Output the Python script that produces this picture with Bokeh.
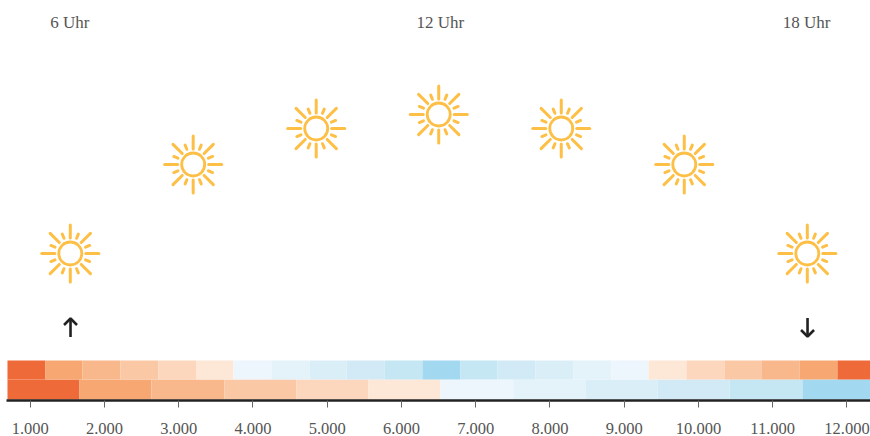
from math import cos, sin, pi
from bokeh.plotting import figure
from bokeh.models import Range1d, FixedTicker
from bokeh.core.properties import value
from bokeh.embed import file_html
from bokeh.resources import INLINE

FONT = "Liberation Serif"
TICKS = [1000, 2000, 3000, 4000, 5000, 6000, 7000, 8000, 9000, 10000, 11000, 12000]
TICK_LABELS = ["1.000", "2.000", "3.000", "4.000", "5.000", "6.000", "7.000", "8.000", "9.000", "10.000", "11.000", "12.000"]

PALETTE = ["#ef6a39", "#f7a872", "#f8b88c", "#fac8a5", "#fcd7bd", "#fde7d7",
           "#eef6fd", "#e4f2f9", "#daeef8", "#d1eaf6", "#c5e6f3", "#a2d8f0"]

ROW1_EDGES = [694, 1206, 1704, 2216, 2728, 3240, 3738, 4250, 4761, 5260, 5771, 6283, 6795,
              7293, 7805, 8317, 8828, 9327, 9838, 10350, 10848, 11360, 11872, 12317]
ROW1_COLORS = PALETTE + PALETTE[-2::-1]
ROW2_EDGES = [694, 1664, 2634, 3617, 4586, 5556, 6525, 7508, 8478, 9448, 10418, 11401, 12317]
ROW2_COLORS = PALETTE

SUN_X = [1540, 3195, 4852, 6502, 8152, 9809, 11466]
SUN_Y = [147, 236, 272, 286, 272, 236, 147]

HOUR_X = [1535, 6525, 11455]
HOUR_Y = [378, 378, 378]
HOUR_LABELS = ["6 Uhr", "12 Uhr", "18 Uhr"]

ARROW_X = [1543, 11469]
ARROW_DIR = [1, -1]
ARROW_Y = 73

W, H = 870, 436
BOTTOM = 36
XR = (600, 12317)
YR = (0, H - BOTTOM)
PX = (XR[1] - XR[0]) / W

p = figure(width=W, height=H, output_backend="svg", toolbar_location=None,
           x_range=Range1d(*XR), y_range=Range1d(*YR),
           min_border_left=0, min_border_right=0, min_border_top=0, min_border_bottom=BOTTOM,
           outline_line_color=None, background_fill_color="white", border_fill_color="white")
p.grid.visible = False
p.yaxis.visible = False

ax = p.xaxis[0]
ax.ticker = FixedTicker(ticks=TICKS)
ax.bounds = (680, 12317)
ax.major_label_overrides = dict(zip(TICKS, TICK_LABELS))
ax.axis_line_color = "#222222"
ax.axis_line_width = 2.5
ax.major_tick_line_color = "#666666"
ax.major_tick_line_width = 1
ax.major_tick_out = 7
ax.major_tick_in = 0
ax.minor_tick_line_color = None
ax.major_label_standoff = 15
ax.major_label_text_font = FONT
ax.major_label_text_font_size = "16.5px"
ax.major_label_text_color = "#555555"

p.quad(left=ROW2_EDGES[:-1], right=ROW2_EDGES[1:], bottom=1, top=21, fill_color=ROW2_COLORS, line_color=None)
p.quad(left=ROW1_EDGES[:-1], right=ROW1_EDGES[1:], bottom=21, top=40, fill_color=ROW1_COLORS, line_color=None)

SUN = "#fdbf45"
xs, ys = [], []
for sx, sy in zip(SUN_X, SUN_Y):
    for k in range(16):
        a = k * pi / 8
        r0, r1 = (15.5, 28.5) if k % 2 == 0 else (16.5, 21)
        xs.append([sx + r0 * cos(a) * PX, sx + r1 * cos(a) * PX])
        ys.append([sy + r0 * sin(a), sy + r1 * sin(a)])
p.multi_line(xs, ys, line_color=SUN, line_width=3, line_cap="round")
p.scatter(SUN_X, SUN_Y, size=23, marker="circle", fill_color=None, line_color=SUN, line_width=2.8)

ax_x, ax_y = [], []
for x, d in zip(ARROW_X, ARROW_DIR):
    ax_x.append([x, x]); ax_y.append([ARROW_Y - 9.5 * d, ARROW_Y + 9 * d])
    ax_x.append([x - 6.5 * PX, x, x + 6.5 * PX]); ax_y.append([ARROW_Y + 2.5 * d, ARROW_Y + 9 * d, ARROW_Y + 2.5 * d])
p.multi_line(ax_x, ax_y, line_color="#222222", line_width=2.6)

p.text(HOUR_X, HOUR_Y, text=HOUR_LABELS, text_font=value(FONT), text_font_size="17px",
       text_color="#555555", text_align="center", text_baseline="middle")

open("out.html", "w").write(file_html(p, INLINE))
